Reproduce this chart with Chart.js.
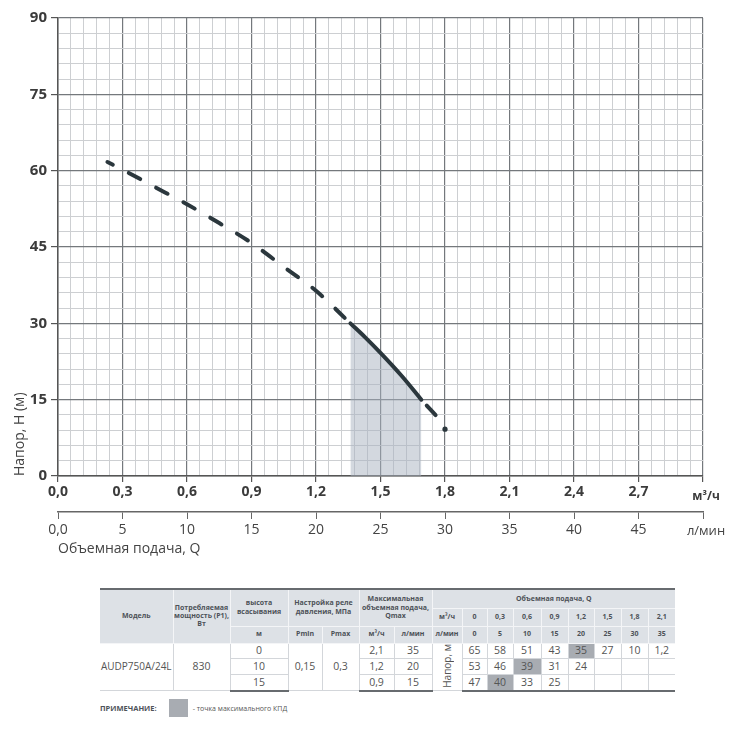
<!DOCTYPE html>
<html lang="ru">
<head>
<meta charset="utf-8">
<title>AUDP750A/24L</title>
<script src="https://cdn.jsdelivr.net/npm/chart.js@4.4.1/dist/chart.umd.min.js"></script>
<style>
    html, body { margin: 0; padding: 0; background: #fff; }
    body { width: 742px; height: 750px; position: relative; overflow: hidden; font-family: 'Open Sans', sans-serif; }
    #chart-box { position: absolute; left: 0; top: 0; width: 742px; height: 565px; }
    #spec { position: absolute; left: 100px; top: 588px; width: 575px; border-collapse: collapse; table-layout: fixed; }
    #spec th { background: #dde1e6; color: #4d5258; font-size: 7px; font-weight: 700; line-height: 1.2;
               border: 1px solid #f4f5f7; padding: 0; text-align: center; vertical-align: middle; white-space: nowrap; overflow: hidden; }
    #spec td { color: #555; font-size: 10.5px; line-height: 13px; border: 1px solid #d3d6da; padding: 0;
               text-align: center; vertical-align: middle; white-space: nowrap; overflow: hidden; }
    #spec tr.top th { border-top: 2px solid #676b6f; }
    #spec tr.last td { border-bottom: 2px solid #676b6f; }
    #spec .edge-l { border-left: none; }
    #spec .edge-r { border-right: none; }
    #spec td.best { background: #a8acb2; }
    #spec td.model { font-size: 10px; }
    #spec td.vert span { display: inline-block; writing-mode: vertical-rl; transform: rotate(180deg); font-size: 10px; }
    #note { position: absolute; left: 100px; top: 699px; height: 18px; display: flex; align-items: center; color: #555; }
    #note b { font-size: 7.5px; color: #4d5258; }
    #note i { display: inline-block; width: 19px; height: 18px; background: #a8acb2; margin: 0 5px 0 12px; }
    #note span { font-size: 7px; }
</style>
</head>
<body>
<div id="chart-box"><canvas id="curve"></canvas></div>
<table id="spec"></table>
<div id="note"><b>ПРИМЕЧАНИЕ:</b><i></i><span>- точка максимального КПД</span></div>

<script>
// --- Data ---

// dashed part of the H(Q) curve, before the working range
const qLeft = [0.23, 0.3, 0.45, 0.6, 0.75, 0.9, 1.05, 1.2, 1.36];
const hLeft = [61.7, 60.2, 56.8, 53.4, 49.7, 45.8, 41.1, 36.4, 30.0];

// solid part (working range, shaded)
const qBest = [1.36, 1.43, 1.5, 1.6, 1.69];
const hBest = [30.0, 27.2, 24.2, 19.6, 15.0];

// dashed tail and the end point
const qRight = [1.69, 1.76];
const hRight = [15.0, 11.8];
const qEnd = [1.8];
const hEnd = [9.2];

// table
const colWidths = [73, 57, 58, 34, 37, 35, 38, 30, 25, 26, 28, 27, 26, 27, 27, 27];
const flowM3 = ['0', '0,3', '0,6', '0,9', '1,2', '1,5', '1,8', '2,1'];
const flowL = ['0', '5', '10', '15', '20', '25', '30', '35'];
const suction = ['0', '10', '15'];
const qmaxM3 = ['2,1', '1,2', '0,9'];
const qmaxL = ['35', '20', '15'];
const headRows = [
    ['65', '58', '51', '43', '35', '27', '10', '1,2'],
    ['53', '46', '39', '31', '24', '', '', ''],
    ['47', '40', '33', '25', '', '', '', '']
];
const bestIndex = [4, 2, 1];

// --- Chart ---

const LINE = '#2b373d';
const TEXT = '#3b3b3b';
const GRID_MAJOR = '#74787c';
const GRID_MINOR = '#cdcfd2';
const FONT = "'Open Sans', sans-serif";

const toPts = (xs, ys) => xs.map((x, i) => ({ x: x, y: ys[i] }));
const isMajorQ = v => Math.abs(v / 0.3 - Math.round(v / 0.3)) < 1e-6;
const isMajorH = v => Math.abs(v / 15 - Math.round(v / 15)) < 1e-6;
const comma = v => v.toFixed(1).replace('.', ',');

const unitLabels = {
    id: 'unitLabels',
    afterDraw(chart) {
        const { ctx, scales } = chart;
        const xr = scales.x.getPixelForValue(3) + 3;
        ctx.save();
        ctx.textAlign = 'center';
        ctx.textBaseline = 'middle';
        ctx.fillStyle = TEXT;
        ctx.font = `bold 12px ${FONT}`;
        ctx.fillText('м³/ч', xr, scales.x.top + 21);
        ctx.fillStyle = '#444';
        ctx.font = `13px ${FONT}`;
        ctx.fillText('л/мин', xr, scales.x2.top + 19);
        ctx.restore();
    }
};

const lineStyle = {
    borderColor: LINE,
    borderWidth: 4,
    borderCapStyle: 'round',
    pointRadius: 0,
    cubicInterpolationMode: 'monotone',
    fill: false
};

new Chart(document.getElementById('curve'), {
    type: 'line',
    data: {
        datasets: [
            { ...lineStyle, data: toPts(qLeft, hLeft), borderDash: [13, 18], borderDashOffset: 7 },
            { ...lineStyle, data: toPts(qBest, hBest), fill: 'origin', backgroundColor: 'rgba(168,178,192,0.5)' },
            { ...lineStyle, data: toPts(qRight, hRight), borderDash: [13, 18], borderDashOffset: 23 },
            { data: toPts(qEnd, hEnd), showLine: false, pointRadius: 2.6, pointBackgroundColor: LINE, pointBorderWidth: 0 }
        ]
    },
    options: {
        responsive: true,
        maintainAspectRatio: false,
        animation: false,
        layout: { padding: { top: 18, right: 39, bottom: 5, left: 0 } },
        plugins: { legend: { display: false }, tooltip: { enabled: false } },
        scales: {
            x: {
                type: 'linear', position: 'bottom', weight: 0, min: 0, max: 3,
                ticks: {
                    stepSize: 0.06, autoSkip: false, maxRotation: 0, padding: 2,
                    callback: v => (isMajorQ(v) && v < 2.95) ? comma(v) : '',
                    font: { family: FONT, size: 14, weight: 'bold' }, color: TEXT
                },
                grid: {
                    color: c => isMajorQ(c.tick.value) ? GRID_MAJOR : GRID_MINOR,
                    lineWidth: c => isMajorQ(c.tick.value) ? 1.2 : 1,
                    tickColor: c => isMajorQ(c.tick.value) ? '#555' : 'rgba(0,0,0,0)',
                    tickLength: 6
                },
                border: { color: '#555', width: 1.5 },
                afterFit: s => { s.height = 36; }
            },
            x2: {
                type: 'linear', position: 'bottom', weight: 1, min: 0, max: 50,
                ticks: {
                    stepSize: 5, autoSkip: false, maxRotation: 0, padding: 3,
                    callback: v => v === 0 ? '0,0' : (v >= 50 ? '' : String(v)),
                    font: { family: FONT, size: 14 }, color: '#444'
                },
                grid: { drawOnChartArea: false, color: '#666', tickLength: 7 },
                border: { color: '#666', width: 1.5 },
                title: {
                    display: true, text: 'Объемная подача, Q', align: 'start',
                    font: { family: FONT, size: 14 }, color: '#444', padding: { top: 0, bottom: 3 }
                },
                afterFit: s => { s.height = 48; }
            },
            y: {
                min: 0, max: 90,
                ticks: {
                    stepSize: 3, autoSkip: false, padding: 4,
                    callback: v => isMajorH(v) ? String(v) : '',
                    font: { family: FONT, size: 15, weight: 'bold' }, color: TEXT
                },
                grid: {
                    color: c => isMajorH(c.tick.value) ? GRID_MAJOR : GRID_MINOR,
                    lineWidth: c => isMajorH(c.tick.value) ? 1.2 : 1,
                    tickColor: c => isMajorH(c.tick.value) ? '#555' : 'rgba(0,0,0,0)',
                    tickLength: 7
                },
                border: { color: '#555', width: 1.5 },
                title: {
                    display: true, text: 'Напор, Н (м)', align: 'start',
                    font: { family: FONT, size: 14 }, color: '#444', padding: { top: 12, bottom: 0 }
                },
                afterFit: s => { s.width = 58; }
            }
        }
    },
    plugins: [unitLabels]
});

// --- Table ---

function buildTable() {
    const last = flowM3.length - 1;
    let html = '<colgroup>' + colWidths.map(w => `<col style="width:${w}px">`).join('') + '</colgroup>';

    html += `<tr class="top" style="height:19px">
        <th rowspan="3" class="edge-l">Модель</th>
        <th rowspan="3">Потребляемая<br>мощность (P1),<br>Вт</th>
        <th rowspan="2">высота<br>всасывания</th>
        <th rowspan="2" colspan="2">Настройка реле<br>давления, МПа</th>
        <th rowspan="2" colspan="2">Максимальная<br>объемная подача,<br>Qmax</th>
        <th colspan="9" class="edge-r">Объемная подача, Q</th>
    </tr>`;
    html += '<tr style="height:18px"><th>м³/ч</th>' +
        flowM3.map((v, i) => `<th${i === last ? ' class="edge-r"' : ''}>${v}</th>`).join('') + '</tr>';
    html += '<tr style="height:17px"><th>м</th><th>Pmin</th><th>Pmax</th><th>м³/ч</th><th>л/мин</th><th>л/мин</th>' +
        flowL.map((v, i) => `<th${i === last ? ' class="edge-r"' : ''}>${v}</th>`).join('') + '</tr>';

    headRows.forEach((row, r) => {
        let tr = `<tr style="height:15px"${r === headRows.length - 1 ? ' class="last"' : ''}>`;
        if (r === 0) {
            tr += '<td rowspan="3" class="edge-l model">AUDP750A/24L</td><td rowspan="3">830</td>';
        }
        tr += `<td>${suction[r]}</td>`;
        if (r === 0) {
            tr += '<td rowspan="3">0,15</td><td rowspan="3">0,3</td>';
        }
        tr += `<td>${qmaxM3[r]}</td><td>${qmaxL[r]}</td>`;
        if (r === 0) {
            tr += '<td rowspan="3" class="vert"><span>Напор, м</span></td>';
        }
        tr += row.map((v, i) => {
            const cls = [];
            if (i === bestIndex[r]) cls.push('best');
            if (i === last) cls.push('edge-r');
            return `<td${cls.length ? ` class="${cls.join(' ')}"` : ''}>${v}</td>`;
        }).join('');
        html += tr + '</tr>';
    });

    document.getElementById('spec').innerHTML = html;
}

buildTable();
</script>
</body>
</html>
